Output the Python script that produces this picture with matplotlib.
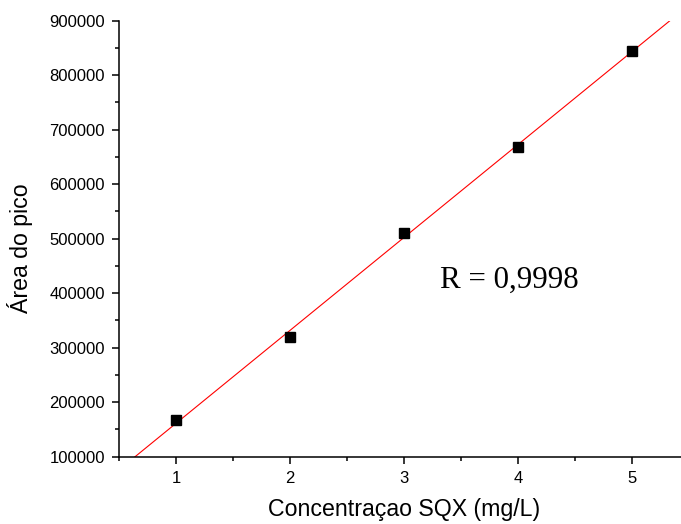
import numpy as np
import matplotlib
matplotlib.use("Agg")
import matplotlib.pyplot as plt
from matplotlib.ticker import MultipleLocator


# CALIBRATION DATA

conc = [1, 2, 3, 4, 5]
area = [167300, 319100, 511000, 668900, 845000]
r_label = "R = 0,9998"


# LINEAR FIT

slope, intercept = np.polyfit(conc, area, 1)
x_fit = np.linspace(0.5, 5.5, 50)
y_fit = slope * x_fit + intercept


fig = plt.figure(figsize=(6.81, 5.24), dpi=100)
ax = fig.add_axes([119 / 681, 67.3 / 524, 570 / 681, 436 / 524])

ax.plot(x_fit, y_fit, color="red", lw=0.8, zorder=2)
ax.plot(conc, area, "s", color="black", ms=7, zorder=3)

ax.set_xlim(0.5, 5.5)
ax.set_ylim(100000, 900000)
ax.xaxis.set_major_locator(MultipleLocator(1))
ax.xaxis.set_minor_locator(MultipleLocator(0.5))
ax.yaxis.set_major_locator(MultipleLocator(100000))
ax.yaxis.set_minor_locator(MultipleLocator(50000))

for side in ["top", "right"]:
    ax.spines[side].set_visible(False)
for side in ["left", "bottom"]:
    ax.spines[side].set_linewidth(1.1)

ax.tick_params(which="major", direction="out", length=5, width=1.1,
               labelsize=12, pad=5)
ax.tick_params(which="minor", direction="out", length=3, width=1.1)
for lbl in ax.get_xticklabels() + ax.get_yticklabels():
    lbl.set_fontfamily("Liberation Sans")

ax.set_xlabel("Concentraçao SQX (mg/L)", fontsize=16.7,
              fontfamily="Liberation Sans", labelpad=9)
ax.set_ylabel("Área do pico", fontsize=16.7,
              fontfamily="Liberation Sans")
ax.yaxis.set_label_coords(-0.151, 0.479)

ax.text(3.32, 424000, r_label, fontsize=22.3, fontfamily="Liberation Serif",
        ha="left", va="center")

fig.savefig("out.png", dpi=100)
